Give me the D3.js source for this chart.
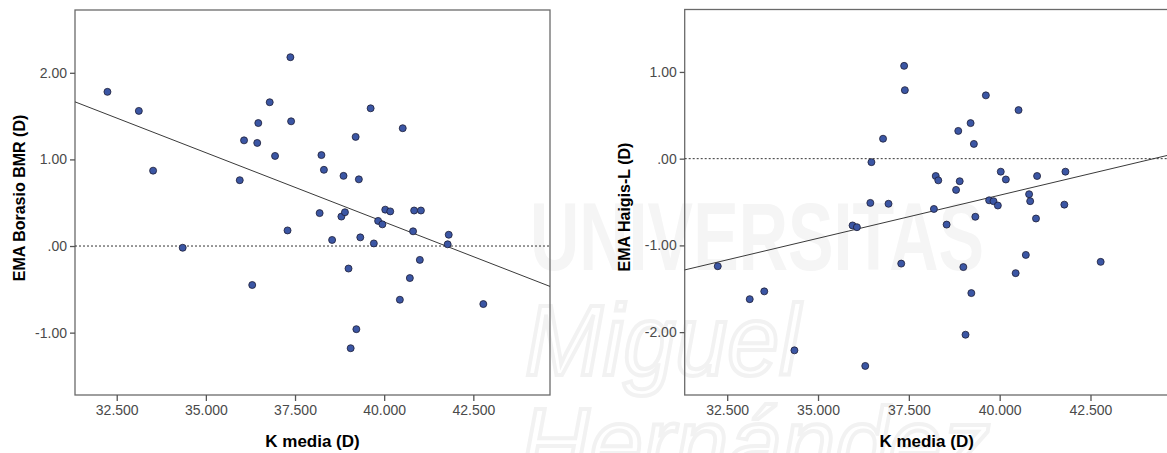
<!DOCTYPE html>
<html lang="es">
<head>
<meta charset="UTF-8">
<title>EMA vs K media</title>
<script src="https://cdn.jsdelivr.net/npm/d3@7/dist/d3.min.js"></script>
<style>
  body { margin: 0; background: #fff; }
  svg text { font-family: Arial, "Liberation Sans", sans-serif; }
</style>
</head>
<body>
<div id="container"></div>
<script>
// K media (D), shared by both panels
const kMedia = [32.24, 33.12, 33.52, 34.35, 35.95, 36.07, 36.30, 36.44, 36.47, 36.79,
  36.94, 37.29, 37.37, 37.39, 38.19, 38.24, 38.31, 38.54, 38.80, 38.86,
  38.90, 39.00, 39.06, 39.20, 39.22, 39.29, 39.33, 39.62, 39.71, 39.83,
  39.95, 40.03, 40.17, 40.44, 40.52, 40.72, 40.81, 40.84, 41.00, 41.03,
  41.78, 41.81, 42.78];

// EMA Borasio BMR (D)
const emaBorasio = [1.78, 1.56, 0.87, -0.02, 0.76, 1.22, -0.45, 1.19, 1.42, 1.66,
  1.04, 0.18, 2.18, 1.44, 0.38, 1.05, 0.88, 0.07, 0.34, 0.81,
  0.39, -0.26, -1.18, 1.26, -0.96, 0.77, 0.10, 1.59, 0.03, 0.29,
  0.25, 0.42, 0.40, -0.62, 1.36, -0.37, 0.17, 0.41, -0.16, 0.41,
  0.02, 0.13, -0.67];

// EMA Haigis-L (D)
const emaHaigis = [-1.24, -1.62, -1.53, -2.21, -0.77, -0.79, -2.39, -0.51, -0.04, 0.23,
  -0.52, -1.21, 1.07, 0.79, -0.58, -0.20, -0.25, -0.76, -0.36, 0.32,
  -0.26, -1.25, -2.03, 0.41, -1.55, 0.17, -0.67, 0.73, -0.48, -0.49,
  -0.54, -0.15, -0.24, -1.32, 0.56, -1.11, -0.41, -0.49, -0.69, -0.20,
  -0.53, -0.15, -1.19];

const xTicks = [32.5, 35, 37.5, 40, 42.5];
const yTicksBorasio = [-1, 0, 1, 2];
const yTicksHaigis = [-2, -1, 0, 1];

const svg = d3.select('#container')
  .append('svg')
  .attr('width', 1167)
  .attr('height', 453);

// very faint watermark behind the plots
const wm = svg.append('g').attr('fill', '#f5f5f5');
wm.append('text').attr('x', 530).attr('y', 270)
  .attr('textLength', 454).attr('lengthAdjust', 'spacingAndGlyphs')
  .style('font-size', '96px').style('font-weight', 'bold').text('UNIVERSITAS');
wm.append('text').attr('x', 525).attr('y', 375)
  .attr('textLength', 275).attr('lengthAdjust', 'spacingAndGlyphs')
  .style('font-size', '100px').style('font-style', 'italic')
  .attr('fill', 'none').attr('stroke', '#f2f2f2').attr('stroke-width', 4).text('Miguel');
wm.append('text').attr('x', 520).attr('y', 478)
  .attr('textLength', 470).attr('lengthAdjust', 'spacingAndGlyphs')
  .style('font-size', '100px').style('font-style', 'italic')
  .attr('fill', 'none').attr('stroke', '#f2f2f2').attr('stroke-width', 4).text('Hernández');

const fmtX = d => d3.format('.3f')(d);
const fmtY = d => {
  let s = Math.abs(d).toFixed(2).replace(/^0\./, '.');
  return (d < 0 ? '-' : '') + s;
};

function drawPanel(opt) {
  const x = d3.scaleLinear().domain([31.33, 44.65]).range([opt.left, opt.right]);
  const y = d3.scaleLinear().domain(opt.yDomain).range([395, opt.top]);
  const g = svg.append('g');

  // frame
  g.append('rect')
    .attr('x', opt.left).attr('y', opt.top)
    .attr('width', opt.right - opt.left).attr('height', 395 - opt.top)
    .attr('fill', 'none').attr('stroke', '#6a6a6a').attr('stroke-width', 1.3);

  // dotted reference at 0
  g.append('line')
    .attr('x1', x(31.33)).attr('x2', x(44.65))
    .attr('y1', y(0)).attr('y2', y(0))
    .attr('stroke', '#333').attr('stroke-width', 1)
    .attr('stroke-dasharray', '2,2');

  // least squares fit
  const pts = kMedia.map((k, i) => ({ x: k, y: opt.values[i] }));
  const mx = d3.mean(pts, d => d.x), my = d3.mean(pts, d => d.y);
  const b = d3.sum(pts, d => (d.x - mx) * (d.y - my)) / d3.sum(pts, d => (d.x - mx) * (d.x - mx));
  const a = my - b * mx;
  g.append('line')
    .attr('x1', x(31.33)).attr('y1', y(a + b * 31.33))
    .attr('x2', x(44.65)).attr('y2', y(a + b * 44.65))
    .attr('stroke', '#3a3a3a').attr('stroke-width', 1);

  // points
  g.selectAll('circle')
    .data(pts)
    .enter().append('circle')
    .attr('cx', d => x(d.x))
    .attr('cy', d => y(d.y))
    .attr('r', 3.5)
    .attr('fill', '#3b56a4')
    .attr('stroke', '#1d1d35')
    .attr('stroke-width', 0.8);

  // axes
  const ax = g.append('g')
    .attr('transform', 'translate(0,395)')
    .call(d3.axisBottom(x).tickValues(xTicks).tickFormat(fmtX).tickSize(6).tickPadding(4).tickSizeOuter(0));
  const ay = g.append('g')
    .attr('transform', 'translate(' + opt.left + ',0)')
    .call(d3.axisLeft(y).tickValues(opt.yTicks).tickFormat(fmtY).tickSize(5).tickPadding(3).tickSizeOuter(0));
  [ax, ay].forEach(a => {
    a.select('.domain').remove();
    a.selectAll('line').attr('stroke', '#555').attr('stroke-width', 1.3);
    a.selectAll('text').attr('fill', '#4a4a4a').style('font-size', '14px')
      .style('font-family', 'Arial, "Liberation Sans", sans-serif');
  });

  // titles
  g.append('text')
    .attr('x', (opt.left + Math.min(opt.right, 1167 + 2)) / 2).attr('y', 447)
    .attr('text-anchor', 'middle')
    .style('font-size', '17px').style('font-weight', 'bold')
    .text('K media (D)');
  g.append('text')
    .attr('transform', 'translate(' + opt.titleX + ',' + opt.titleY + ') rotate(-90)')
    .attr('text-anchor', 'middle')
    .style('font-size', '16px').style('font-weight', 'bold')
    .text(opt.yLabel);
}

drawPanel({ left: 75, right: 550, top: 10, yDomain: [-1.72, 2.725],
  values: emaBorasio, yTicks: yTicksBorasio, yLabel: 'EMA Borasio BMR (D)',
  titleX: 25, titleY: 198 });
drawPanel({ left: 684.7, right: 1168.6, top: 9.5, yDomain: [-2.725, 1.72],
  values: emaHaigis, yTicks: yTicksHaigis, yLabel: 'EMA Haigis-L (D)',
  titleX: 630, titleY: 207 });
</script>
</body>
</html>
